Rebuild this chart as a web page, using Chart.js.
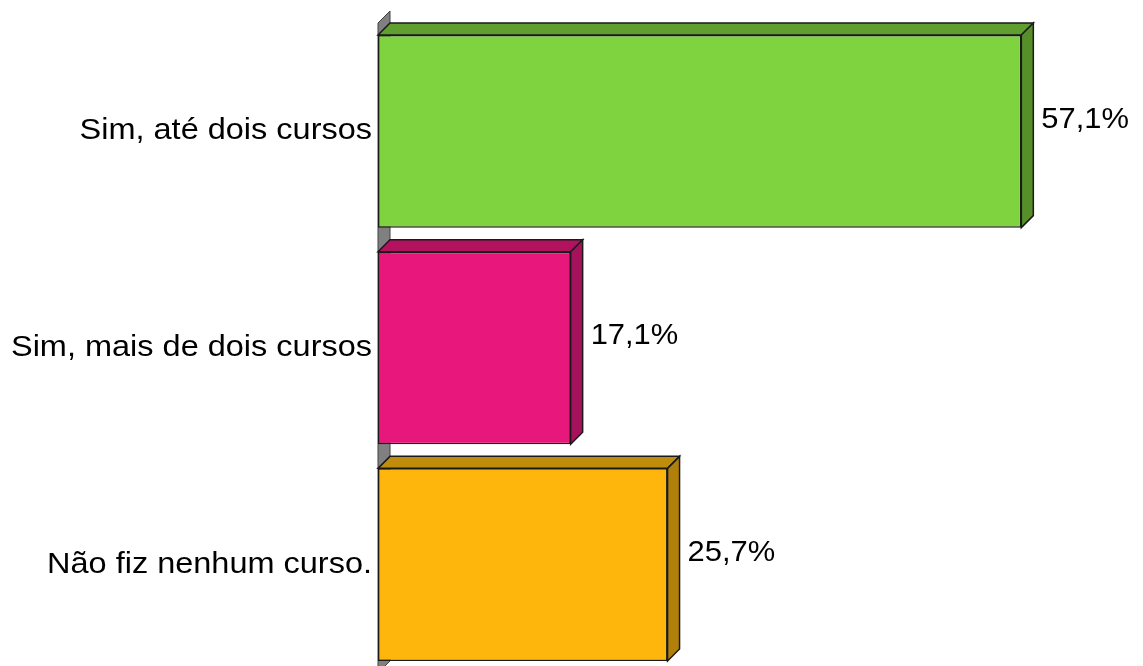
<!DOCTYPE html>
<html>
<head>
<meta charset="utf-8">
<script src="https://cdn.jsdelivr.net/npm/chart.js@4.4.1/dist/chart.umd.min.js"></script>
<style>
  html, body { margin: 0; padding: 0; background: #fff; overflow: hidden; }
  #chart { display: block; }
</style>
</head>
<body>
<canvas id="chart" width="1143" height="680"></canvas>
<script>
// categories and percentages
const categories = ['Sim, até dois cursos', 'Sim, mais de dois cursos', 'Não fiz nenhum curso.'];
const values = [57.1, 17.1, 25.7];
const frontColors = ['#7fd33f', '#e8177b', '#feb60d'];
const sideColors = ['#568f2a', '#a5115a', '#b0800a'];
const topColors = ['#5f9e2f', '#b3125f', '#c08c0b'];

const DEPTH = 12;
const FAMILY = '"Liberation Sans", Arial, sans-serif';

// text drawn slightly widened, like the original export
function drawText(ctx, text, x, y, align, size, stretch) {
  ctx.save();
  ctx.font = size + 'px ' + FAMILY;
  ctx.fillStyle = '#000';
  ctx.textBaseline = 'middle';
  ctx.textAlign = align;
  ctx.translate(x, y);
  ctx.scale(stretch, 1);
  ctx.fillText(text, 0, 0);
  ctx.restore();
}

// back wall + 3D faces of each bar, then labels
const depthPlugin = {
  id: 'depth3d',
  beforeDatasetsDraw(chart) {
    const { ctx, chartArea } = chart;
    const l = chartArea.left, t = chartArea.top, b = chartArea.bottom;
    ctx.save();
    ctx.beginPath();
    ctx.moveTo(l, t);
    ctx.lineTo(l + DEPTH, t - DEPTH);
    ctx.lineTo(l + DEPTH, b - DEPTH);
    ctx.lineTo(l, b);
    ctx.closePath();
    ctx.fillStyle = '#808080';
    ctx.fill();
    ctx.strokeStyle = '#404040';
    ctx.lineWidth = 1;
    ctx.stroke();

    const meta = chart.getDatasetMeta(0);
    meta.data.forEach((bar, i) => {
      const p = bar.getProps(['x', 'y', 'base', 'height'], true);
      const top = p.y - p.height / 2, bottom = p.y + p.height / 2;
      ctx.lineWidth = 1.5;
      ctx.strokeStyle = '#1a1a1a';
      // top face
      ctx.beginPath();
      ctx.moveTo(p.base, top);
      ctx.lineTo(p.base + DEPTH, top - DEPTH);
      ctx.lineTo(p.x + DEPTH, top - DEPTH);
      ctx.lineTo(p.x, top);
      ctx.closePath();
      ctx.fillStyle = topColors[i];
      ctx.fill();
      ctx.stroke();
      // right face
      ctx.beginPath();
      ctx.moveTo(p.x, top);
      ctx.lineTo(p.x + DEPTH, top - DEPTH);
      ctx.lineTo(p.x + DEPTH, bottom - DEPTH);
      ctx.lineTo(p.x, bottom);
      ctx.closePath();
      ctx.fillStyle = sideColors[i];
      ctx.fill();
      ctx.stroke();
    });
    ctx.restore();
  },
  afterDatasetsDraw(chart) {
    const { ctx, scales } = chart;
    const meta = chart.getDatasetMeta(0);
    const yScale = scales.y;
    categories.forEach((cat, i) => {
      drawText(ctx, cat, yScale.right - 6, yScale.getPixelForTick(i), 'right', 29, 1.12);
    });
    meta.data.forEach((bar, i) => {
      const label = values[i].toFixed(1).replace('.', ',') + '%';
      drawText(ctx, label, bar.x + DEPTH + 8, bar.y - DEPTH, 'left', 30, 1.03);
    });
  }
};

new Chart(document.getElementById('chart'), {
  type: 'bar',
  data: {
    labels: categories,
    datasets: [{
      data: values,
      backgroundColor: frontColors,
      borderColor: '#1a1a1a',
      borderWidth: 1.5,
      borderSkipped: false,
      categoryPercentage: 1,
      barPercentage: 0.889
    }]
  },
  options: {
    indexAxis: 'y',
    responsive: false,
    animation: false,
    devicePixelRatio: 1,
    layout: { padding: { top: 23, bottom: 7, left: 0, right: 0 } },
    plugins: { legend: { display: false }, tooltip: { enabled: false } },
    scales: {
      x: { display: false, min: 0, max: 67.9 },
      y: {
        grid: { display: false, drawTicks: false },
        border: { display: false },
        ticks: { display: false },
        afterFit(scale) { scale.width = 378; }
      }
    }
  },
  plugins: [depthPlugin]
});
</script>
</body>
</html>
